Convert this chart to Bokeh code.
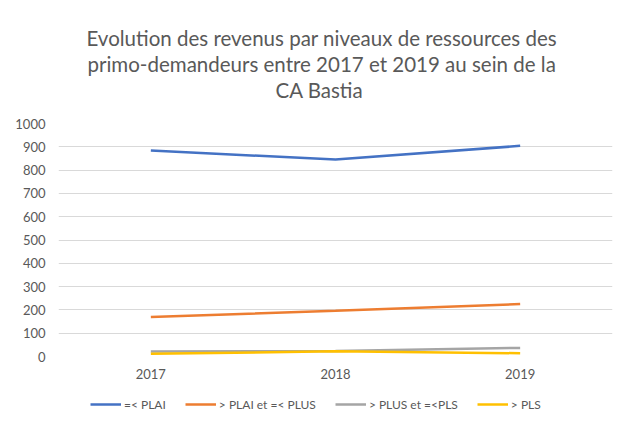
from bokeh.plotting import figure
from bokeh.models import ColumnDataSource, Legend, LegendItem, Title, FactorRange
from bokeh.layouts import column
from bokeh.embed import file_html
from bokeh.resources import INLINE

years = ["2017", "2018", "2019"]
plai = [884, 845, 904]
plai_plus = [169, 196, 225]
plus_pls = [21, 24, 37]
pls = [12, 22, 14]
series_names = ["=< PLAI", "> PLAI et =< PLUS", "> PLUS et =<PLS", "> PLS"]
colors = ["#4472C4", "#ED7D31", "#A5A5A5", "#FFC000"]
title_lines = ["Evolution des revenus par niveaux de ressources des",
               "primo-demandeurs  entre 2017 et 2019 au sein de la",
               "CA Bastia"]
y_ticks = list(range(0, 1001, 100))

FONT = "Lato"
TXT = "#595959"

src = ColumnDataSource(dict(x=years, a=plai, b=plai_plus, c=plus_pls, d=pls))
cols = ["a", "b", "c", "d"]

p = figure(width=620, height=388, x_range=FactorRange(*years), y_range=(0, 1000),
           output_backend="svg", toolbar_location=None,
           min_border_left=58, min_border_right=8, min_border_top=123, min_border_bottom=32)

for col, c in zip(cols, colors):
    p.line("x", col, source=src, line_color=c, line_width=2.5)

p.outline_line_color = None
p.xgrid.grid_line_color = None
p.ygrid.grid_line_color = "#d9d9d9"
p.ygrid.grid_line_width = 1
p.yaxis.ticker = y_ticks
p.x_range.range_padding = 0
p.x_range.group_padding = 0

for ax in (p.xaxis[0], p.yaxis[0]):
    ax.axis_line_color = None
    ax.major_tick_line_color = None
    ax.minor_tick_line_color = None
    ax.major_label_text_font = FONT
    ax.major_label_text_font_size = "13px"
    ax.major_label_text_color = TXT
p.yaxis.major_label_standoff = 7
p.xaxis.major_label_standoff = 6

# spacer between title block and plot area
p.add_layout(Title(text=" ", text_font_size="18px", standoff=0), "above")
title_offsets = [28, 29, 217]
for t, off in reversed(list(zip(title_lines, title_offsets))):
    p.add_layout(Title(text=t, align="left", text_font=FONT, text_font_size="20.5px",
                       text_color=TXT, text_font_style="normal", standoff=0, offset=off), "above")

# legend strip
p2 = figure(width=620, height=30, x_range=p.x_range, y_range=(2000, 3000),
            output_backend="svg", toolbar_location=None, min_border=0)
p2.axis.visible = False
p2.grid.grid_line_color = None
p2.outline_line_color = None
rends = [p2.line("x", col, source=src, line_color=c, line_width=2.5) for col, c in zip(cols, colors)]
legend = Legend(items=[LegendItem(label=n, renderers=[r]) for n, r in zip(series_names, rends)],
                orientation="horizontal", location=(32, 4),
                label_text_font=FONT, label_text_font_size="12px", label_text_color=TXT,
                glyph_width=31, label_standoff=3, spacing=19, border_line_color=None,
                background_fill_alpha=0, padding=0, margin=0)
p2.add_layout(legend, "center")

layout = column(p, p2, spacing=0)
open("out.html", "w").write(file_html(layout, INLINE))
